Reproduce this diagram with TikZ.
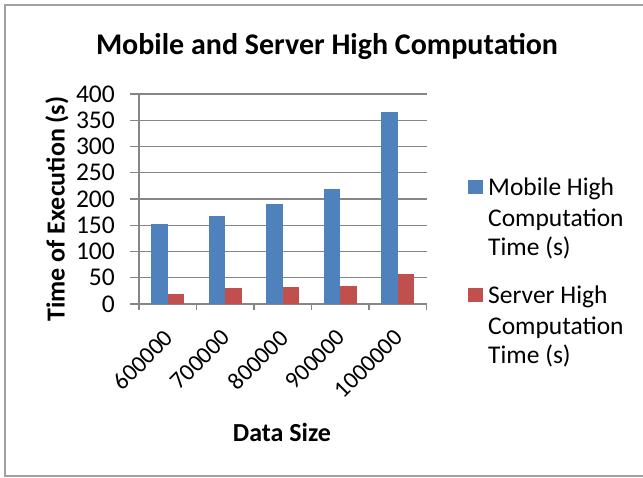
\documentclass[tikz,border=0pt]{standalone}
\usepackage{fontspec}
\setmainfont{Carlito}
\usetikzlibrary{positioning}
\definecolor{mobileblue}{RGB}{79,129,189}
\definecolor{serverred}{RGB}{192,80,77}
\definecolor{gridgray}{RGB}{134,134,134}
\definecolor{framegray}{RGB}{160,160,160}
\newcommand{\chartfont}{\fontsize{25.5}{30}\selectfont}

\begin{document}
\begin{tikzpicture}[x=1pt,y=-1pt,
    gridline/.style={draw=gridgray,line width=1.2pt},
    mobilebar/.style={fill=mobileblue},
    serverbar/.style={fill=serverred},
    yticklabel/.style={anchor=east,font=\chartfont,inner sep=0pt},
    xticklabel/.style={anchor=north east,rotate=45,font=\fontsize{24}{24}\selectfont,inner sep=0pt},
    axistitle/.style={font=\fontsize{26}{26}\selectfont\bfseries},
    legendtext/.style={anchor=base west,font=\chartfont,inner sep=0pt}]
  \useasboundingbox (0,0) rectangle (643,477);
  \draw[framegray,line width=1.5pt] (643,5) -- (5,5) -- (5,476) -- (643,476);
  % title
  \node[font=\fontsize{30}{30}\selectfont\bfseries] (title) at (327,46) {Mobile and Server High Computation};
  % grid and value labels
  \foreach \v in {0,50,...,400} {
    \draw[gridline] (130,{304-0.525*\v}) -- (427,{304-0.525*\v});
    \node[yticklabel] (ylab\v) at (115,{304-0.525*\v}) {\v};
  }
  \draw[gridline] (139,94) -- (139,310);
  % bars
  \foreach \size/\mob/\srv [count=\i from 0] in
      {600000/152/19,700000/168/30,800000/190/32,900000/220/35,1000000/366/58} {
    \pgfmathsetmacro{\xa}{151+57.5*\i}
    \fill[mobilebar] (\xa,304) rectangle ({\xa+16.5},{304-0.525*\mob});
    \fill[serverbar] ({\xa+16.5},304) rectangle ({\xa+33},{304-0.525*\srv});
    \draw[gridline] ({139+57.5*(\i+1)},304) -- ({139+57.5*(\i+1)},310);
    \node[xticklabel] (xlab\i) at ({\xa+12},328) {\size};
  }
  \node[axistitle,rotate=90] (ytitle) at (57,209) {Time of Execution (s)};
  \node[axistitle] (xtitle) at (282,432) {Data Size};
  % legend
  \node[fill=mobileblue,minimum size=14.5pt,inner sep=0pt] (keymob) at (475.5,187) {};
  \node[legendtext] (mobA) at (488,195) {Mobile High};
  \node[legendtext] (mobB) at (488,226) {Computation};
  \node[legendtext] (mobC) at (488,255) {Time (s)};
  \node[fill=serverred,minimum size=14.5pt,inner sep=0pt] (keysrv) at (475.5,295) {};
  \node[legendtext] (srvA) at (488,303) {Server High};
  \node[legendtext] (srvB) at (488,334) {Computation};
  \node[legendtext] (srvC) at (488,363) {Time (s)};
\end{tikzpicture}
\end{document}
